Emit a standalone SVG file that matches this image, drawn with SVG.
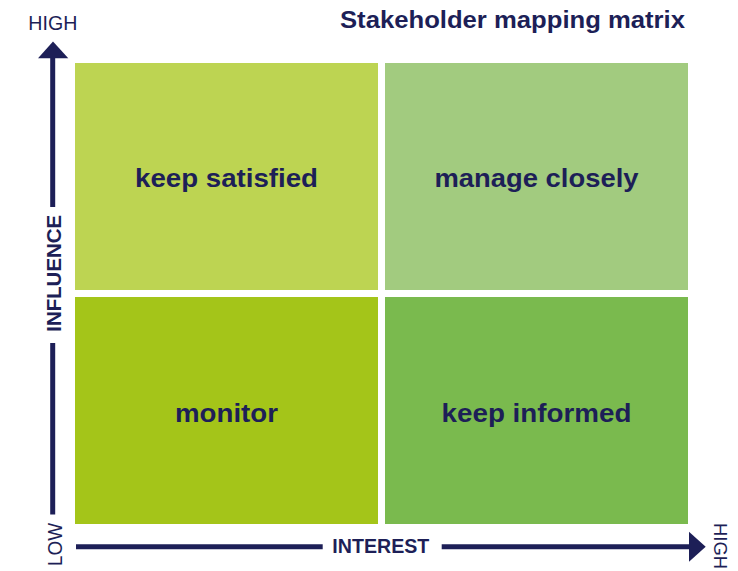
<svg xmlns="http://www.w3.org/2000/svg" width="738" height="571" viewBox="0 0 738 571">
<style>
.q{font-family:"Liberation Sans",Arial,sans-serif;font-weight:bold;font-size:26px;fill:#1d1f57;text-anchor:middle}
.ax{font-family:"Liberation Sans",Arial,sans-serif;font-size:20px;fill:#1d1f57}
.axb{font-family:"Liberation Sans",Arial,sans-serif;font-weight:bold;font-size:20px;fill:#1d1f57}
.ln{stroke:#1d1f57;stroke-width:5;fill:none}
</style>
<rect width="738" height="571" fill="#ffffff"/>
<text x="685" y="27.5" text-anchor="end" textLength="345" lengthAdjust="spacingAndGlyphs" style="font-family:'Liberation Sans',Arial,sans-serif;font-weight:bold;font-size:24px;fill:#1d1f57">Stakeholder mapping matrix</text>
<g id="keep-satisfied">
<rect x="75" y="63" width="303" height="227" fill="#bdd452"/>
<text class="q" x="226.5" y="186.5" textLength="183" lengthAdjust="spacingAndGlyphs">keep satisfied</text>
</g>
<g id="manage-closely">
<rect x="385" y="63" width="303" height="227" fill="#a2cb7f"/>
<text class="q" x="536.5" y="186.5" textLength="204" lengthAdjust="spacingAndGlyphs">manage closely</text>
</g>
<g id="monitor">
<rect x="75" y="297" width="303" height="227" fill="#a4c519"/>
<text class="q" x="226.5" y="421.5" textLength="103" lengthAdjust="spacingAndGlyphs">monitor</text>
</g>
<g id="keep-informed">
<rect x="385" y="297" width="303" height="227" fill="#7aba4e"/>
<text class="q" x="536.5" y="421.5" textLength="190" lengthAdjust="spacingAndGlyphs">keep informed</text>
</g>
<g id="connectors">
<line class="ln" x1="52.7" y1="56" x2="52.7" y2="207"/>
<line class="ln" x1="52.7" y1="343" x2="52.7" y2="514.5"/>
<polygon points="38,58.3 68.3,58.3 53,41.5" fill="#1d1f57"/>
<line class="ln" x1="76" y1="546.7" x2="322.7" y2="546.7"/>
<line class="ln" x1="441.7" y1="546.7" x2="691" y2="546.7"/>
<polygon points="689,531.7 689,561.7 705.7,546.7" fill="#1d1f57"/>
</g>
<g id="axis-labels">
<text class="ax" x="28.3" y="30" textLength="49" lengthAdjust="spacingAndGlyphs">HIGH</text>
<text class="axb" x="332.3" y="552.7" textLength="97" lengthAdjust="spacingAndGlyphs">INTEREST</text>
<text class="axb" transform="translate(60.5,273.3) rotate(-90)" text-anchor="middle" textLength="117" lengthAdjust="spacingAndGlyphs">INFLUENCE</text>
<text class="ax" transform="translate(61.7,566) rotate(-90)" textLength="43" lengthAdjust="spacingAndGlyphs">LOW</text>
<text class="ax" style="font-size:19px" transform="translate(713.5,523) rotate(90)" textLength="46" lengthAdjust="spacingAndGlyphs">HIGH</text>
</g>
</svg>
